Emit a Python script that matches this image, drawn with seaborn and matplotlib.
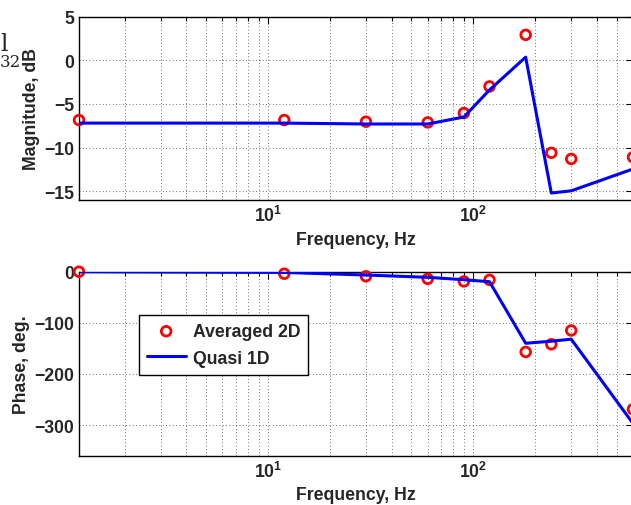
import matplotlib
matplotlib.use("Agg")
import matplotlib.pyplot as plt
import seaborn as sns
import pandas as pd
import numpy as np
from matplotlib.ticker import LogLocator, NullFormatter, FixedLocator

# ---- data ----
freq = [1.2, 12, 30, 60, 90, 120, 180, 240, 300, 600]
mag_2d = [-6.85, -6.85, -7.04, -7.12, -6.05, -3.0, 2.9, -10.6, -11.3, -11.1]
mag_1d = [-7.2, -7.2, -7.3, -7.3, -6.5, -3.4, 0.35, -15.2, -14.95, -12.45]
phase_2d = [0, -4, -9, -14, -19, -16, -157, -142, -115, -269]
phase_1d = [0, -1.5, -6.5, -11, -15.7, -19.6, -140, -136, -132, -297]
series_names = ["Averaged 2D", "Quasi 1D"]
mag_yticks = [-15, -10, -5, 0, 5]
phase_yticks = [-300, -200, -100, 0]

df = pd.DataFrame({"freq": freq, "mag2d": mag_2d, "mag1d": mag_1d,
                   "ph2d": phase_2d, "ph1d": phase_1d})

sns.set_theme(style="white")
plt.rcParams["font.family"] = ["Liberation Sans", "DejaVu Sans"]
plt.rcParams["font.weight"] = "bold"
plt.rcParams["axes.labelweight"] = "bold"
plt.rcParams["mathtext.fontset"] = "custom"
plt.rcParams["mathtext.rm"] = "Liberation Sans:bold"
plt.rcParams["mathtext.it"] = "Liberation Sans:bold:italic"
plt.rcParams["mathtext.bf"] = "Liberation Sans:bold"
plt.rcParams["mathtext.default"] = "rm"

FS = 12.7
W, H = 631, 506
fig = plt.figure(figsize=(W / 100, H / 100), dpi=100)

def px_axes(left, top, right, bottom):
    return fig.add_axes([left / W, 1 - bottom / H, (right - left) / W, (bottom - top) / H])

ax1 = px_axes(79, 17.5, 633, 201)
ax2 = px_axes(79, 272.7, 633, 456.7)

def style(ax, yticks, ylim, ylabel):
    ax.set_xscale("log")
    ax.set_xlim(freq[0], freq[-1])
    ax.set_ylim(*ylim)
    ax.set_yticks(yticks)
    ax.xaxis.set_major_locator(FixedLocator([10, 100]))
    ax.xaxis.set_minor_locator(LogLocator(base=10, subs=np.arange(2, 10), numticks=20))
    ax.xaxis.set_minor_formatter(NullFormatter())
    ax.set_xticklabels([r"$10^{1}$", r"$10^{2}$"])
    ax.tick_params(which="both", direction="in", top=True, right=True,
                   labelsize=FS, width=0.8, color="black")
    ax.tick_params(which="major", length=5)
    ax.tick_params(which="minor", length=3)
    for lab in ax.get_yticklabels() + ax.get_xticklabels():
        lab.set_fontweight("bold")
    ax.grid(which="major", axis="both", color="0.25", linestyle=(0, (1, 3)), linewidth=0.6)
    ax.grid(which="minor", axis="x", color="0.25", linestyle=(0, (1, 3)), linewidth=0.6)
    for s in ax.spines.values():
        s.set_color("black")
        s.set_linewidth(1.0)
    ax.set_xlabel("Frequency, Hz", fontsize=FS, fontweight="bold", labelpad=4)
    ax.set_ylabel(ylabel, fontsize=FS, fontweight="bold", labelpad=3)

mk = dict(marker="o", s=48, facecolor="none", edgecolor="red", linewidth=2.0, zorder=3)
ln = dict(color="blue", linewidth=2.2, zorder=4)

sns.scatterplot(data=df, x="freq", y="mag2d", ax=ax1, label=series_names[0], clip_on=False, **mk)
sns.lineplot(data=df, x="freq", y="mag1d", ax=ax1, label=series_names[1], **ln)
ax1.get_legend().remove()
style(ax1, mag_yticks, (-16, 5), "Magnitude, dB")

sns.scatterplot(data=df, x="freq", y="ph2d", ax=ax2, label=series_names[0], clip_on=False, **mk)
sns.lineplot(data=df, x="freq", y="ph1d", ax=ax2, label=series_names[1], **ln)
style(ax2, phase_yticks, (-360, 0), "Phase, deg.")

handles, labels = ax2.get_legend_handles_labels()
leg = ax2.legend(handles, labels, loc="upper left", bbox_to_anchor=(0.108, 0.765),
                 borderaxespad=0, frameon=True, fancybox=False, framealpha=1,
                 edgecolor="black", prop={"size": FS, "weight": "bold"},
                 handlelength=2.2, handletextpad=0.4, labelspacing=0.55,
                 borderpad=0.45)
leg.get_frame().set_linewidth(1.0)

# cut-off serif label at the top-left corner of the reference
fig.text(0.0, 1 - 51 / H, "l", family="DejaVu Serif", fontsize=17, fontweight="normal")
fig.text(0.0, 1 - 67 / H, "32", family="DejaVu Serif", fontsize=12, fontweight="normal")

fig.savefig("out.png", dpi=100)
